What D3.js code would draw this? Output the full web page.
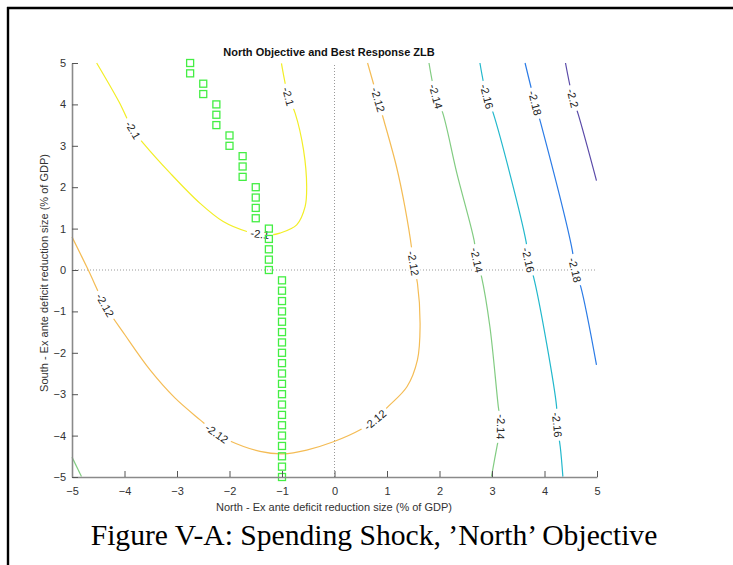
<!DOCTYPE html>
<html><head><meta charset="utf-8">
<script src="https://cdn.jsdelivr.net/npm/d3@7"></script>
<style>
html,body{margin:0;padding:0;background:#fff;}
svg{display:block;}
</style></head>
<body>
<svg id="chart" width="733" height="565"></svg>
<script>
// ---------- data ----------
const title = "North Objective and Best Response ZLB";
const xLabel = "North - Ex ante deficit reduction size (% of GDP)";
const yLabel = "South - Ex ante deficit reduction size (% of GDP)";
const caption = "Figure V-A: Spending Shock, \u2019North\u2019 Objective";
const xTicks = [-5,-4,-3,-2,-1,0,1,2,3,4,5];
const yTicks = [-5,-4,-3,-2,-1,0,1,2,3,4,5];

const levels = ["-2.1","-2.12","-2.14","-2.16","-2.18","-2.2"];
const levelColors = ["#f2ee26","#f4bc55","#82cc82","#22b8cc","#2b7be6","#5a4aa8"];

// contour lines (x = North, y = South)
const contour_2_10 = [[-4.53,5.0],[-4.1,4.05],[-3.84,3.38],[-3.64,3.06],[-3.13,2.34],[-2.56,1.61],[-2.12,1.17],[-1.67,0.93],[-1.42,0.87],[-1.2,0.85],[-1.04,0.89],[-0.72,1.09],[-0.56,1.53],[-0.53,2.01],[-0.59,2.90],[-0.75,3.79],[-0.88,4.19],[-1.01,4.99]];
const contour_2_12 = [[-5.0,0.80],[-4.69,0.0],[-4.37,-0.85],[-3.99,-1.57],[-3.51,-2.42],[-3.04,-3.09],[-2.56,-3.62],[-2.24,-3.95],[-1.99,-4.13],[-1.42,-4.38],[-0.98,-4.44],[-0.53,-4.35],[-0.02,-4.15],[0.49,-3.86],[0.77,-3.62],[1.02,-3.30],[1.38,-2.82],[1.58,-2.17],[1.63,-1.37],[1.58,-0.32],[1.50,0.16],[1.47,0.52],[1.34,1.53],[1.18,2.50],[0.93,3.66],[0.83,4.11],[0.74,4.51],[0.63,5.0]];
const contour_2_14a = [[1.80,5.0],[1.93,4.19],[2.06,3.80],[2.33,2.34],[2.66,0.71],[2.71,0.24],[2.80,-0.16],[2.96,-1.37],[3.12,-3.30],[3.17,-3.79],[3.10,-4.23],[2.99,-4.99]];
const contour_2_14b = [[-5.0,-4.52],[-4.82,-4.99]];
const contour_2_16 = [[2.77,5.0],[2.90,4.19],[3.02,3.80],[3.65,0.68],[3.69,0.24],[3.79,-0.16],[4.04,-1.77],[4.23,-3.30],[4.24,-3.74],[4.30,-4.27],[4.35,-4.99]];
const contour_2_18 = [[3.63,5.0],[3.82,4.03],[3.93,3.54],[4.53,0.47],[4.58,0.0],[4.69,-0.40],[4.99,-2.29]];
const contour_2_20 = [[4.40,5.0],[4.54,4.15],[4.64,3.77],[4.99,2.16]];

const contours = [
  {level:0, pts:contour_2_10, labels:[[-3.84,3.38],[-1.42,0.87],[-0.88,4.19]]},
  {level:1, pts:contour_2_12, labels:[[-4.37,-0.85],[-2.24,-3.95],[0.77,-3.62],[1.50,0.16],[0.83,4.11]]},
  {level:2, pts:contour_2_14a, labels:[[1.93,4.19],[2.71,0.24],[3.17,-3.79]]},
  {level:2, pts:contour_2_14b, labels:[]},
  {level:3, pts:contour_2_16, labels:[[2.90,4.19],[3.69,0.24],[4.24,-3.74]]},
  {level:4, pts:contour_2_18, labels:[[3.82,4.03],[4.58,0.0]]},
  {level:5, pts:contour_2_20, labels:[[4.54,4.15]]}
];

// best response (green squares)
const brNorth = [-2.75,-2.75,-2.5,-2.5,-2.25,-2.25,-2.25,-2,-2,-1.75,-1.75,-1.75,-1.5,-1.5,-1.5,-1.5,-1.25,-1.25,-1.25,-1.25,-1.25,
  -1,-1,-1,-1,-1,-1,-1,-1,-1,-1,-1,-1,-1,-1,-1,-1,-1,-1,-1,-1];
const brSouth = [5,4.75,4.5,4.25,4,3.75,3.5,3.25,3,2.75,2.5,2.25,2,1.75,1.5,1.25,1,0.75,0.5,0.25,0,
  -0.25,-0.5,-0.75,-1,-1.25,-1.5,-1.75,-2,-2.25,-2.5,-2.75,-3,-3.25,-3.5,-3.75,-4,-4.25,-4.5,-4.75,-5];

// ---------- drawing ----------
const svg = d3.select("#chart");
const font = "'Liberation Sans', Arial, Helvetica, sans-serif";
const x = d3.scaleLinear().domain([-5,5]).range([72,597]);
const y = d3.scaleLinear().domain([-5,5]).range([477,63]);

// figure frame (top and left rule)
svg.append("line").attr("x1",7).attr("x2",733).attr("y1",8).attr("y2",8).attr("stroke","#000").attr("stroke-width",2.4);
svg.append("line").attr("x1",8).attr("x2",8).attr("y1",7).attr("y2",565).attr("stroke","#000").attr("stroke-width",2.4);

// zero lines
const zg = svg.append("g").attr("stroke","#999").attr("stroke-width",1).attr("stroke-dasharray","1,2");
zg.append("line").attr("x1",x(0)).attr("x2",x(0)).attr("y1",y(-5)).attr("y2",y(5));
zg.append("line").attr("x1",x(-5)).attr("x2",x(5)).attr("y1",y(0)).attr("y2",y(0));

// contours
const line = d3.line().x(d=>x(d[0])).y(d=>y(d[1])).curve(d3.curveCatmullRom.alpha(0.5));
const cg = svg.append("g");
contours.forEach(c=>{
  cg.append("path").attr("d",line(c.pts)).attr("fill","none")
    .attr("stroke",levelColors[c.level]).attr("stroke-width",1.2);
});

// contour labels
const lg = svg.append("g");
contours.forEach(c=>{
  c.labels.forEach(lp=>{
    let idx = 0, best = Infinity;
    c.pts.forEach((p,i)=>{const d=(p[0]-lp[0])**2+(p[1]-lp[1])**2; if(d<best){best=d;idx=i;}});
    const a = c.pts[Math.max(0,idx-1)], b = c.pts[Math.min(c.pts.length-1,idx+1)];
    let ang = Math.atan2(y(b[1])-y(a[1]), x(b[0])-x(a[0]))*180/Math.PI;
    while(ang>120) ang-=180;
    while(ang<=-60) ang+=180;
    const g = lg.append("g").attr("transform",`translate(${x(lp[0])},${y(lp[1])}) rotate(${ang})`);
    const txt = levels[c.level];
    const w = txt.length*5.6+4;
    g.append("rect").attr("x",-w/2).attr("y",-6).attr("width",w).attr("height",12).attr("fill","#fff");
    g.append("text").attr("text-anchor","middle").attr("dy","0.36em")
      .attr("font-family",font).attr("font-size",11).attr("fill","#222").text(txt);
  });
});

// best response squares
svg.append("g").selectAll("rect").data(brNorth.map((v,i)=>[v,brSouth[i]])).join("rect")
  .attr("x",d=>x(d[0])-3.5).attr("y",d=>y(d[1])-3.5).attr("width",7).attr("height",7)
  .attr("fill","none").attr("stroke","#44ee44").attr("stroke-width",1.3);

// axes
const xAxis = svg.append("g").attr("transform",`translate(0,${y(-5)})`)
  .call(d3.axisBottom(x).tickValues(xTicks).tickSizeInner(-6).tickSizeOuter(0).tickPadding(10).tickFormat(d3.format("d")));
const yAxis = svg.append("g").attr("transform",`translate(${x(-5)},0)`)
  .call(d3.axisLeft(y).tickValues(yTicks).tickSizeInner(-6).tickSizeOuter(0).tickPadding(6).tickFormat(d3.format("d")));
[xAxis,yAxis].forEach(a=>{
  a.select(".domain").attr("stroke","#8a8a8a").attr("stroke-width",1.6);
  a.selectAll(".tick line").attr("stroke","#555").attr("stroke-width",1);
  a.selectAll(".tick text").attr("font-family",font).attr("font-size",11).attr("fill","#333");
});

// title and labels
svg.append("text").attr("x",329).attr("y",56).attr("text-anchor","middle")
  .attr("font-family",font).attr("font-size",11).attr("font-weight","bold").attr("fill","#111").text(title);
svg.append("text").attr("x",334).attr("y",511).attr("text-anchor","middle")
  .attr("font-family",font).attr("font-size",11).attr("fill","#333").text(xLabel);
svg.append("text").attr("transform","translate(48,273) rotate(-90)").attr("text-anchor","middle")
  .attr("font-family",font).attr("font-size",11).attr("fill","#333").text(yLabel);
svg.append("text").attr("x",374).attr("y",545).attr("text-anchor","middle")
  .attr("font-family","'Liberation Serif','Times New Roman',serif").attr("font-size",29.6).attr("fill","#000").text(caption);
</script>
</body></html>
